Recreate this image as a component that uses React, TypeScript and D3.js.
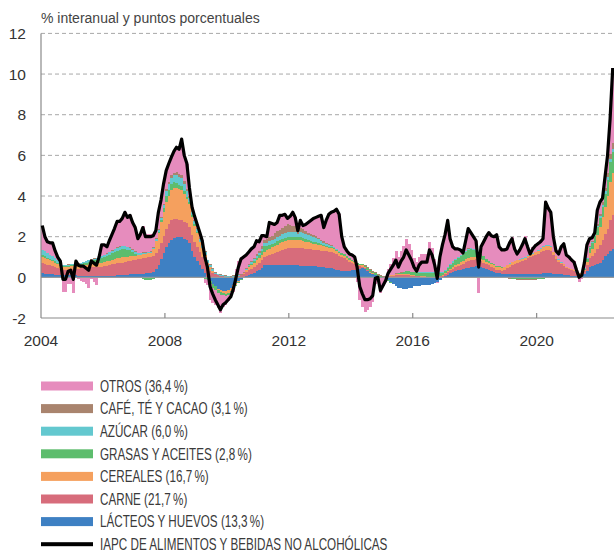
import React, { useEffect, useRef } from "react";
import * as d3 from "d3";

// monthly data, Jan 2004 - Jun 2022 (one row per year)
const lacteos = [
  0.2, 0.18, 0.16, 0.15, 0.14, 0.13, 0.12, 0.11, 0.1, 0.1, 0.1, 0.1,
  0.1, 0.1, 0.09, 0.09, 0.08, 0.08, 0.07, 0.07, 0.06, 0.06, 0.05, 0.05,
  0.05, 0.06, 0.07, 0.08, 0.09, 0.1, 0.1, 0.11, 0.12, 0.13, 0.14, 0.15,
  0.15, 0.16, 0.17, 0.18, 0.19, 0.2, 0.2, 0.25, 0.4, 0.6, 0.9, 1.2,
  1.5, 1.7, 1.85, 1.95, 2.0, 2.0, 2.0, 1.9, 1.85, 1.7, 1.3, 1.0,
  0.8, 0.6, 0.4, 0.2, 0.0, -0.2, -0.35, -0.45, -0.55, -0.6, -0.65, -0.65,
  -0.6, -0.5, -0.4, -0.3, -0.2, -0.1, 0.0, 0.05, 0.1, 0.15, 0.2, 0.3,
  0.35, 0.45, 0.6, 0.6, 0.6, 0.6, 0.6, 0.6, 0.6, 0.6, 0.6, 0.6,
  0.6, 0.6, 0.6, 0.6, 0.58, 0.57, 0.56, 0.55, 0.55, 0.55, 0.55, 0.53,
  0.52, 0.5, 0.48, 0.46, 0.45, 0.42, 0.38, 0.34, 0.3, 0.3, 0.3, 0.32,
  0.35, 0.38, 0.4, 0.42, 0.45, 0.4, 0.3, 0.2, 0.15, 0.1, 0.05, 0.02,
  0.0, -0.08, -0.15, -0.25, -0.35, -0.45, -0.5, -0.52, -0.55, -0.55, -0.52, -0.5,
  -0.45, -0.45, -0.42, -0.4, -0.4, -0.4, -0.4, -0.35, -0.3, -0.22, -0.15, -0.05,
  0.05, 0.12, 0.2, 0.25, 0.3, 0.35, 0.38, 0.4, 0.45, 0.48, 0.5, 0.52,
  0.55, 0.55, 0.5, 0.45, 0.4, 0.35, 0.3, 0.25, 0.2, 0.2, 0.18, 0.16,
  0.15, 0.15, 0.15, 0.15, 0.15, 0.15, 0.15, 0.15, 0.15, 0.15, 0.15, 0.16,
  0.17, 0.18, 0.19, 0.2, 0.2, 0.2, 0.18, 0.16, 0.15, 0.14, 0.12, 0.1,
  0.1, 0.08, 0.06, 0.05, 0.05, 0.05, 0.15, 0.3, 0.5, 0.55, 0.6, 0.65,
  0.7, 0.85, 1.05, 1.15, 1.3, 1.4,
];

const carne = [
  0.5, 0.48, 0.46, 0.44, 0.42, 0.4, 0.35, 0.3, 0.25, 0.25, 0.28, 0.3,
  0.3, 0.32, 0.33, 0.35, 0.37, 0.38, 0.4, 0.42, 0.43, 0.45, 0.47, 0.48,
  0.5, 0.52, 0.54, 0.56, 0.58, 0.6, 0.6, 0.62, 0.64, 0.65, 0.67, 0.68,
  0.7, 0.72, 0.74, 0.75, 0.77, 0.78, 0.8, 0.8, 0.8, 0.8, 0.8, 0.85,
  0.9, 0.92, 0.95, 0.9, 0.85, 0.8, 0.8, 0.8, 0.8, 0.8, 0.78, 0.75,
  0.7, 0.65, 0.58, 0.5, 0.4, 0.3, 0.22, 0.15, 0.1, 0.07, 0.05, 0.03,
  0.0, 0.0, 0.02, 0.05, 0.08, 0.12, 0.16, 0.2, 0.25, 0.28, 0.3, 0.32,
  0.35, 0.38, 0.4, 0.45, 0.5, 0.55, 0.6, 0.65, 0.7, 0.75, 0.8, 0.85,
  0.85, 0.85, 0.85, 0.85, 0.85, 0.85, 0.84, 0.83, 0.82, 0.81, 0.8, 0.8,
  0.8, 0.8, 0.8, 0.8, 0.8, 0.78, 0.75, 0.72, 0.7, 0.65, 0.55, 0.45,
  0.35, 0.28, 0.2, 0.12, 0.08, 0.05, 0.04, 0.03, 0.02, 0.0, 0.0, 0.0,
  0.02, 0.03, 0.05, 0.07, 0.08, 0.1, 0.1, 0.1, 0.1, 0.1, 0.1, 0.08,
  0.07, 0.06, 0.05, 0.04, 0.03, 0.02, 0.0, 0.0, 0.02, 0.03, 0.05, 0.08,
  0.1, 0.12, 0.15, 0.18, 0.2, 0.22, 0.25, 0.28, 0.3, 0.33, 0.35, 0.35,
  0.33, 0.3, 0.3, 0.28, 0.26, 0.24, 0.22, 0.2, 0.18, 0.15, 0.15, 0.2,
  0.3, 0.38, 0.45, 0.5, 0.55, 0.6, 0.65, 0.72, 0.8, 0.85, 0.9, 0.95,
  1.0, 1.05, 1.1, 1.15, 1.15, 1.1, 0.9, 0.75, 0.6, 0.5, 0.45, 0.35,
  0.3, 0.28, 0.25, 0.2, 0.12, 0.08, 0.15, 0.3, 0.45, 0.5, 0.6, 0.75,
  0.9, 1.0, 1.1, 1.25, 1.5, 1.65,
];

const cereales = [
  0.3, 0.28, 0.26, 0.24, 0.22, 0.2, 0.18, 0.16, 0.15, 0.15, 0.15, 0.15,
  0.15, 0.15, 0.15, 0.15, 0.16, 0.16, 0.17, 0.17, 0.18, 0.18, 0.19, 0.19,
  0.2, 0.2, 0.21, 0.22, 0.23, 0.24, 0.25, 0.25, 0.24, 0.23, 0.22, 0.21,
  0.2, 0.2, 0.2, 0.2, 0.2, 0.2, 0.2, 0.35, 0.6, 0.8, 1.0, 1.15,
  1.3, 1.4, 1.5, 1.55, 1.55, 1.55, 1.5, 1.4, 1.2, 1.1, 0.9, 0.8,
  0.7, 0.5, 0.45, 0.4, 0.3, 0.2, 0.1, 0.0, -0.05, -0.1, -0.12, -0.15,
  -0.15, -0.15, -0.12, -0.1, -0.05, 0.0, 0.05, 0.1, 0.15, 0.18, 0.2, 0.22,
  0.25, 0.26, 0.27, 0.28, 0.3, 0.32, 0.34, 0.36, 0.38, 0.4, 0.4, 0.4,
  0.4, 0.4, 0.4, 0.4, 0.4, 0.38, 0.36, 0.34, 0.32, 0.3, 0.3, 0.28,
  0.25, 0.23, 0.22, 0.2, 0.2, 0.18, 0.15, 0.12, 0.1, 0.1, 0.1, 0.1,
  0.1, 0.09, 0.08, 0.07, 0.06, 0.05, 0.04, 0.03, 0.02, 0.01, 0.0, 0.0,
  0.0, 0.01, 0.02, 0.03, 0.03, 0.04, 0.04, 0.05, 0.05, 0.05, 0.05, 0.04,
  0.04, 0.03, 0.03, 0.02, 0.02, 0.02, 0.02, 0.02, 0.02, 0.03, 0.04, 0.05,
  0.05, 0.06, 0.07, 0.08, 0.1, 0.11, 0.12, 0.13, 0.14, 0.15, 0.15, 0.14,
  0.12, 0.1, 0.1, 0.1, 0.11, 0.12, 0.13, 0.14, 0.15, 0.15, 0.15, 0.15,
  0.15, 0.15, 0.15, 0.14, 0.13, 0.12, 0.11, 0.1, 0.1, 0.1, 0.1, 0.12,
  0.14, 0.16, 0.18, 0.2, 0.2, 0.18, 0.15, 0.12, 0.1, 0.08, 0.07, 0.06,
  0.05, 0.05, 0.04, 0.03, 0.03, 0.03, 0.08, 0.15, 0.25, 0.35, 0.5, 0.7,
  0.9, 1.1, 1.3, 1.6, 1.9, 2.1,
];

const grasas = [
  0.1, 0.1, 0.09, 0.08, 0.07, 0.06, 0.05, 0.05, 0.05, 0.05, 0.05, 0.05,
  0.05, 0.05, 0.06, 0.07, 0.08, 0.1, 0.12, 0.14, 0.16, 0.18, 0.2, 0.22,
  0.25, 0.28, 0.3, 0.33, 0.35, 0.38, 0.4, 0.4, 0.38, 0.35, 0.3, 0.2,
  0.1, 0.02, -0.05, -0.1, -0.15, -0.15, -0.15, -0.1, -0.05, 0.05, 0.1, 0.2,
  0.3, 0.3, 0.3, 0.28, 0.25, 0.2, 0.18, 0.15, 0.12, 0.1, 0.07, 0.05,
  0.02, 0.0, -0.05, -0.1, -0.12, -0.15, -0.15, -0.15, -0.15, -0.15, -0.12, -0.1,
  -0.1, -0.08, -0.06, -0.05, -0.03, -0.01, 0.0, 0.02, 0.05, 0.07, 0.1, 0.12,
  0.15, 0.2, 0.25, 0.22, 0.2, 0.18, 0.17, 0.16, 0.15, 0.15, 0.15, 0.15,
  0.15, 0.15, 0.15, 0.15, 0.15, 0.14, 0.13, 0.12, 0.11, 0.1, 0.1, 0.08,
  0.07, 0.06, 0.05, 0.05, 0.05, 0.06, 0.07, 0.08, 0.1, 0.1, 0.08, 0.06,
  0.05, 0.05, 0.05, 0.05, 0.05, 0.06, 0.07, 0.08, 0.09, 0.1, 0.08, 0.05,
  0.0, -0.03, -0.05, -0.03, 0.0, 0.03, 0.05, 0.08, 0.1, 0.15, 0.15, 0.15,
  0.15, 0.15, 0.15, 0.16, 0.17, 0.18, 0.2, 0.2, 0.18, 0.15, 0.12, 0.1,
  0.12, 0.15, 0.2, 0.22, 0.25, 0.28, 0.3, 0.33, 0.36, 0.4, 0.38, 0.35,
  0.32, 0.3, 0.25, 0.2, 0.15, 0.1, 0.08, 0.06, 0.05, 0.04, 0.02, 0.0,
  -0.03, -0.05, -0.07, -0.08, -0.1, -0.1, -0.1, -0.1, -0.1, -0.1, -0.1, -0.1,
  -0.1, -0.08, -0.06, -0.05, -0.05, -0.05, -0.05, -0.05, -0.05, -0.05, -0.05, -0.05,
  -0.05, -0.05, -0.05, -0.03, -0.01, 0.0, 0.05, 0.15, 0.25, 0.3, 0.35, 0.4,
  0.4, 0.5, 0.65, 0.8, 0.95, 1.0,
];

const azucar = [
  0.25, 0.24, 0.22, 0.2, 0.18, 0.16, 0.14, 0.1, 0.06, 0.05, 0.05, 0.05,
  0.05, 0.05, 0.05, 0.05, 0.06, 0.06, 0.07, 0.07, 0.08, 0.08, 0.09, 0.09,
  0.1, 0.1, 0.11, 0.12, 0.13, 0.14, 0.15, 0.15, 0.14, 0.13, 0.12, 0.11,
  0.1, 0.09, 0.08, 0.07, 0.06, 0.05, 0.05, 0.06, 0.07, 0.08, 0.1, 0.15,
  0.25, 0.28, 0.3, 0.33, 0.36, 0.4, 0.4, 0.35, 0.28, 0.2, 0.18, 0.15,
  0.15, 0.15, 0.15, 0.15, 0.13, 0.12, 0.1, 0.08, 0.06, 0.05, 0.05, 0.05,
  0.05, 0.04, 0.04, 0.03, 0.02, 0.01, 0.0, 0.02, 0.04, 0.06, 0.08, 0.09,
  0.1, 0.12, 0.15, 0.16, 0.17, 0.18, 0.2, 0.21, 0.22, 0.23, 0.24, 0.25,
  0.25, 0.25, 0.25, 0.15, 0.25, 0.24, 0.23, 0.22, 0.21, 0.2, 0.2, 0.18,
  0.15, 0.12, 0.1, 0.08, 0.05, 0.04, 0.03, 0.02, 0.01, 0.0, 0.0, 0.0,
  -0.02, -0.02, -0.02, -0.03, -0.03, -0.03, -0.03, -0.03, -0.03, -0.03, -0.03, -0.02,
  -0.02, -0.01, 0.0, 0.0, 0.0, 0.0, 0.0, 0.0, 0.0, 0.01, 0.01, 0.01,
  0.02, 0.02, 0.02, 0.02, 0.02, 0.03, 0.03, 0.03, 0.04, 0.04, 0.05, 0.05,
  0.05, 0.05, 0.05, 0.05, 0.05, 0.05, 0.05, 0.05, 0.05, 0.05, 0.04, 0.03,
  0.02, 0.0, 0.0, -0.01, -0.02, -0.03, -0.03, -0.03, -0.02, -0.01, 0.0, 0.01,
  0.02, 0.02, 0.02, 0.02, 0.02, 0.03, 0.03, 0.03, 0.03, 0.03, 0.03, 0.04,
  0.04, 0.05, 0.05, 0.05, 0.05, 0.05, 0.04, 0.04, 0.03, 0.03, 0.03, 0.02,
  0.02, 0.02, 0.02, 0.02, 0.02, 0.02, 0.03, 0.03, 0.04, 0.04, 0.05, 0.05,
  0.1, 0.12, 0.15, 0.15, 0.15, 0.15,
];

const cafe = [
  0.01, 0.01, 0.01, 0.01, 0.01, 0.01, 0.01, 0.01, 0.01, 0.01, 0.01, 0.01,
  0.02, 0.02, 0.02, 0.02, 0.02, 0.02, 0.02, 0.02, 0.02, 0.02, 0.02, 0.02,
  0.02, 0.02, 0.02, 0.02, 0.02, 0.02, 0.02, 0.02, 0.02, 0.02, 0.02, 0.02,
  0.03, 0.03, 0.03, 0.03, 0.03, 0.03, 0.04, 0.04, 0.05, 0.05, 0.05, 0.06,
  0.08, 0.1, 0.12, 0.14, 0.15, 0.15, 0.15, 0.12, 0.1, 0.08, 0.07, 0.06,
  0.05, 0.05, 0.04, 0.04, 0.03, 0.03, 0.02, 0.02, 0.02, 0.02, 0.02, 0.03,
  0.03, 0.03, 0.04, 0.04, 0.05, 0.05, 0.06, 0.06, 0.07, 0.08, 0.08, 0.09,
  0.1, 0.12, 0.15, 0.18, 0.2, 0.22, 0.25, 0.28, 0.3, 0.32, 0.35, 0.35,
  0.33, 0.3, 0.27, 0.1, 0.2, 0.18, 0.16, 0.14, 0.12, 0.1, 0.1, 0.08,
  0.07, 0.06, 0.05, 0.04, 0.03, 0.02, 0.01, 0.0, 0.0, 0.0, -0.01, -0.02,
  -0.02, -0.02, 0.0, 0.02, 0.04, 0.05, 0.05, 0.05, 0.05, 0.05, 0.04, 0.03,
  0.03, 0.03, 0.02, 0.02, 0.02, 0.02, 0.01, 0.01, 0.01, 0.0, 0.0, 0.0,
  0, 0, 0, 0, 0, 0, 0, 0, 0, 0, 0, 0,
  0.01, 0.01, 0.01, 0.01, 0.01, 0.01, 0.01, 0.01, 0.01, 0.01, 0.01, 0.01,
  0, 0, 0, 0, 0, 0, 0, 0, 0, 0, 0, 0,
  -0.01, -0.01, -0.01, -0.01, -0.01, -0.01, -0.01, -0.01, -0.01, -0.01, -0.01, -0.01,
  0, 0, 0, 0, 0, 0, 0, 0, 0, 0, 0, 0,
  0, 0, 0, 0, 0, 0, 0.01, 0.02, 0.03, 0.04, 0.05, 0.07,
  0.1, 0.12, 0.15, 0.2, 0.25, 0.3,
];

const otros = [
  1.19, 0.71, 0.55, 0.58, 0.66, 0.34, 0.15, 0.07, -0.72, -0.71, -0.34, -0.31,
  -0.77, 0.11, -0.1, -0.18, -0.22, -0.35, -0.5, -0.09, -0.23, -0.37, -0.02, 0.55,
  0.48, 0.32, 0.55, 0.77, 1.0, 1.27, 1.23, 1.35, 1.66, 1.44, 1.58, 1.33,
  1.17, 0.68, 0.93, 1.32, 0.9, 0.89, 0.86, 0.65, 0.43, 0.82, 0.85, 0.99,
  0.92, 0.9, 0.88, 1.05, 1.24, 1.2, 1.77, 1.28, 1.25, 0.42, 0.15, 0.19,
  0.18, 0.25, 0.23, -0.19, -0.24, -0.75, -0.74, -0.75, -0.78, -0.89, -0.58, -0.46,
  -0.33, -0.29, -0.12, 0.28, 0.63, 0.83, 0.73, 0.65, 0.59, 0.58, 0.54, 0.66,
  0.45, 0.52, 0.23, 0.11, 0.73, 0.6, 0.44, 0.44, 0.7, 0.6, 0.56, 0.3,
  0.42, 0.65, 0.43, 0.05, 0.37, 0.19, 0.32, 0.5, 0.67, 0.84, 0.9, 1.05,
  1.19, 0.68, 1.1, 1.47, 1.62, 1.75, 1.96, 1.82, 0.79, 0.35, 0.28, 0.24,
  0.29, 0.24, -0.21, -1.1, -1.45, -1.68, -1.57, -1.41, -1.2, -0.28, -0.14, -0.73,
  -0.43, -0.1, 0.31, 0.56, 0.82, 1.11, 0.8, 1.08, 1.29, 1.59, 1.31, 1.07,
  0.67, 0.49, 0.77, 0.91, 0.91, 0.9, 1.5, 1.2, 0.64, -0.08, 0.89, 1.37,
  1.72, 2.29, 1.22, 0.71, 0.49, 0.38, 0.24, 0.0, 0.49, 0.98, 0.77, 0.6,
  0.46, -0.75, 0.35, 0.73, 1.1, 1.42, 1.35, 1.38, 1.54, 0.97, 0.85, 0.83,
  0.82, 1.06, 1.21, 0.68, 0.41, 0.56, 0.77, 1.01, 0.53, 0.13, 0.33, 0.39,
  0.4, 0.39, 0.44, 2.15, 1.85, 1.72, 0.78, 0.28, 0.32, 0.8, 1.03, 0.62,
  0.58, 0.47, 0.43, 0.08, -0.21, -0.08, 0.23, 0.65, 0.38, 0.17, 0.05, 0.68,
  0.6, 0.21, 0.5, 0.85, 1.75, 3.7,
];

const iapc = [
  2.55, 2.0, 1.75, 1.7, 1.7, 1.3, 1.0, 0.8, -0.1, -0.1, 0.3, 0.35,
  -0.1, 0.8, 0.6, 0.55, 0.55, 0.45, 0.35, 0.8, 0.7, 0.6, 1.0, 1.6,
  1.6, 1.5, 1.8, 2.1, 2.4, 2.75, 2.75, 2.9, 3.2, 2.95, 3.05, 2.7,
  2.45, 1.9, 2.1, 2.45, 2.0, 2.0, 2.0, 2.05, 2.3, 3.2, 3.8, 4.6,
  5.25, 5.6, 5.9, 6.2, 6.4, 6.3, 6.8, 6.0, 5.6, 4.4, 3.45, 3.0,
  2.6, 2.2, 1.8, 1.0, 0.5, -0.45, -0.8, -1.1, -1.35, -1.6, -1.35, -1.25,
  -1.1, -0.95, -0.6, -0.05, 0.5, 0.9, 1.0, 1.1, 1.25, 1.4, 1.5, 1.8,
  1.75, 2.05, 2.05, 2.0, 2.7, 2.65, 2.6, 2.7, 3.05, 3.05, 3.1, 2.9,
  3.0, 3.2, 2.95, 2.3, 2.8, 2.55, 2.6, 2.7, 2.8, 2.9, 2.95, 3.0,
  3.05, 2.45, 2.8, 3.1, 3.2, 3.25, 3.35, 3.1, 2.0, 1.5, 1.3, 1.15,
  1.1, 1.0, 0.5, -0.45, -0.8, -1.1, -1.1, -1.05, -0.9, -0.05, 0.0, -0.65,
  -0.4, -0.15, 0.2, 0.4, 0.6, 0.85, 0.5, 0.8, 1.0, 1.35, 1.1, 0.85,
  0.5, 0.3, 0.6, 0.75, 0.75, 0.75, 1.35, 1.1, 0.6, -0.05, 1.0, 1.6,
  2.1, 2.8, 1.9, 1.5, 1.4, 1.4, 1.35, 1.2, 1.8, 2.4, 2.2, 2.0,
  1.8, 0.5, 1.5, 1.75, 2.0, 2.2, 2.05, 2.0, 2.1, 1.5, 1.35, 1.35,
  1.4, 1.7, 1.9, 1.4, 1.15, 1.35, 1.6, 1.9, 1.5, 1.15, 1.4, 1.55,
  1.65, 1.75, 1.9, 3.7, 3.4, 3.2, 2.0, 1.3, 1.15, 1.5, 1.65, 1.1,
  1.0, 0.85, 0.75, 0.35, 0.0, 0.1, 0.7, 1.6, 1.9, 1.95, 2.2, 3.3,
  3.7, 3.9, 4.9, 6.0, 7.8, 10.3,
];

const components = [
  { key: "lacteos", label: "LÁCTEOS Y HUEVOS (13,3\u2009%)", color: "#3e80c3", values: lacteos },
  { key: "carne", label: "CARNE (21,7\u2009%)", color: "#d76c7b", values: carne },
  { key: "cereales", label: "CEREALES (16,7\u2009%)", color: "#f5a05e", values: cereales },
  { key: "grasas", label: "GRASAS Y ACEITES (2,8\u2009%)", color: "#5dbd6d", values: grasas },
  { key: "azucar", label: "AZÚCAR (6,0\u2009%)", color: "#63c8cf", values: azucar },
  { key: "cafe", label: "CAFÉ, TÉ Y CACAO (3,1\u2009%)", color: "#a9846e", values: cafe },
  { key: "otros", label: "OTROS (36,4\u2009%)", color: "#e68cbd", values: otros },
];
const lineLabel = "IAPC DE ALIMENTOS Y BEBIDAS NO ALCOHÓLICAS";
const yTicks = [-2, 0, 2, 4, 6, 8, 10, 12];
const xTicks = [2004, 2008, 2012, 2016, 2020];

const WIDTH = 614;
const HEIGHT = 553;

export default function App() {
  const ref = useRef<SVGSVGElement>(null);

  useEffect(() => {
    const svg = d3.select(ref.current);
    svg.selectAll("*").remove();

    const start = new Date(2004, 0, 1);
    const end = new Date(2022, 6, 1);
    const months = d3.timeMonth.range(start, end);

    const x = d3.scaleTime().domain([start, end]).range([41, 614]);
    const y = d3.scaleLinear().domain([-2, 12]).range([318, 33.4]);

    const rows = months.map((d, i) => {
      const r: any = { date: d };
      components.forEach(c => { r[c.key] = c.values[i]; });
      return r;
    });

    const stacked = d3.stack()
      .keys(components.map(c => c.key))
      .offset(d3.stackOffsetDiverging)(rows);

    const axisFont = "'Liberation Sans', Arial, Helvetica, sans-serif";

    // gridlines
    svg.append("g")
      .selectAll("line")
      .data(yTicks.filter(v => v > 0))
      .join("line")
      .attr("x1", 41)
      .attr("x2", WIDTH)
      .attr("y1", d => y(d))
      .attr("y2", d => y(d))
      .attr("stroke", "#a8a8a8")
      .attr("stroke-width", 1)
      .attr("stroke-dasharray", "4,3");

    // bars
    const layers = svg.append("g");
    stacked.forEach((layer, li) => {
      layers.append("g")
        .attr("fill", components[li].color)
        .selectAll("rect")
        .data(layer)
        .join("rect")
        .attr("x", (d: any) => x(d.data.date))
        .attr("width", (d: any) => x(d3.timeMonth.offset(d.data.date, 1)) - x(d.data.date) + 0.4)
        .attr("y", d => y(Math.max(d[0], d[1])))
        .attr("height", d => Math.abs(y(d[0]) - y(d[1])))
        .attr("shape-rendering", "crispEdges");
    });

    // zero line
    svg.append("line")
      .attr("x1", 41).attr("x2", WIDTH)
      .attr("y1", y(0)).attr("y2", y(0))
      .attr("stroke", "#999").attr("stroke-width", 1.2);

    // axes
    svg.append("line")
      .attr("x1", 41).attr("x2", 41)
      .attr("y1", y(12)).attr("y2", y(-2))
      .attr("stroke", "#8a8a8a").attr("stroke-width", 1.2);
    svg.append("line")
      .attr("x1", 41).attr("x2", WIDTH)
      .attr("y1", y(-2)).attr("y2", y(-2))
      .attr("stroke", "#8a8a8a").attr("stroke-width", 1.2);

    svg.append("g")
      .selectAll("line")
      .data(xTicks.slice(1))
      .join("line")
      .attr("x1", d => x(new Date(d, 0, 1)))
      .attr("x2", d => x(new Date(d, 0, 1)))
      .attr("y1", y(-2))
      .attr("y2", y(-2) - 5)
      .attr("stroke", "#8a8a8a")
      .attr("stroke-width", 1.2);

    // total line
    const line = d3.line<number>()
      .x((d, i) => x(d3.timeDay.offset(months[i], 15)))
      .y(d => y(d))
      .curve(d3.curveLinear);

    svg.append("path")
      .datum(iapc)
      .attr("d", line)
      .attr("fill", "none")
      .attr("stroke", "#000")
      .attr("stroke-width", 3.2)
      .attr("stroke-linejoin", "round");

    // tick labels
    svg.append("g")
      .selectAll("text")
      .data(yTicks)
      .join("text")
      .attr("x", 26)
      .attr("y", d => y(d))
      .attr("dy", "0.36em")
      .attr("text-anchor", "end")
      .attr("font-family", axisFont)
      .attr("font-size", 15.5)
      .attr("fill", "#333")
      .text(d => d);

    svg.append("g")
      .selectAll("text")
      .data(xTicks)
      .join("text")
      .attr("x", d => x(new Date(d, 0, 1)))
      .attr("y", 346)
      .attr("text-anchor", "middle")
      .attr("font-family", axisFont)
      .attr("font-size", 15.5)
      .attr("fill", "#333")
      .text(d => d);

    svg.append("text")
      .attr("x", 41)
      .attr("y", 23)
      .attr("font-family", axisFont)
      .attr("font-size", 14)
      .attr("fill", "#444")
      .text("% interanual y puntos porcentuales");

    // legend
    const legendItems = [...components].reverse().map(c => ({ label: c.label, color: c.color, line: false }))
      .concat([{ label: lineLabel, color: "#000", line: true }]);

    const legend = svg.append("g")
      .selectAll("g")
      .data(legendItems)
      .join("g")
      .attr("transform", (d, i) => `translate(41, ${386 + i * 22.6})`);

    legend.append("rect")
      .attr("x", 0)
      .attr("y", d => d.line ? -2 : -4.5)
      .attr("width", 52)
      .attr("height", d => d.line ? 4 : 9)
      .attr("fill", d => d.color);

    // condensed look: squeeze the text horizontally
    legend.append("text")
      .attr("transform", "translate(59, 0) scale(0.73, 1)")
      .attr("x", 0)
      .attr("y", 0)
      .attr("dy", "0.36em")
      .attr("font-family", axisFont)
      .attr("font-size", 16)
      .attr("fill", "#3a3a3a")
      .text(d => d.label);
  }, []);

  return (
    <svg
      ref={ref}
      width={WIDTH}
      height={HEIGHT}
      style={{ position: "absolute", left: 0, top: 0, background: "#fff" }}
    />
  );
}
